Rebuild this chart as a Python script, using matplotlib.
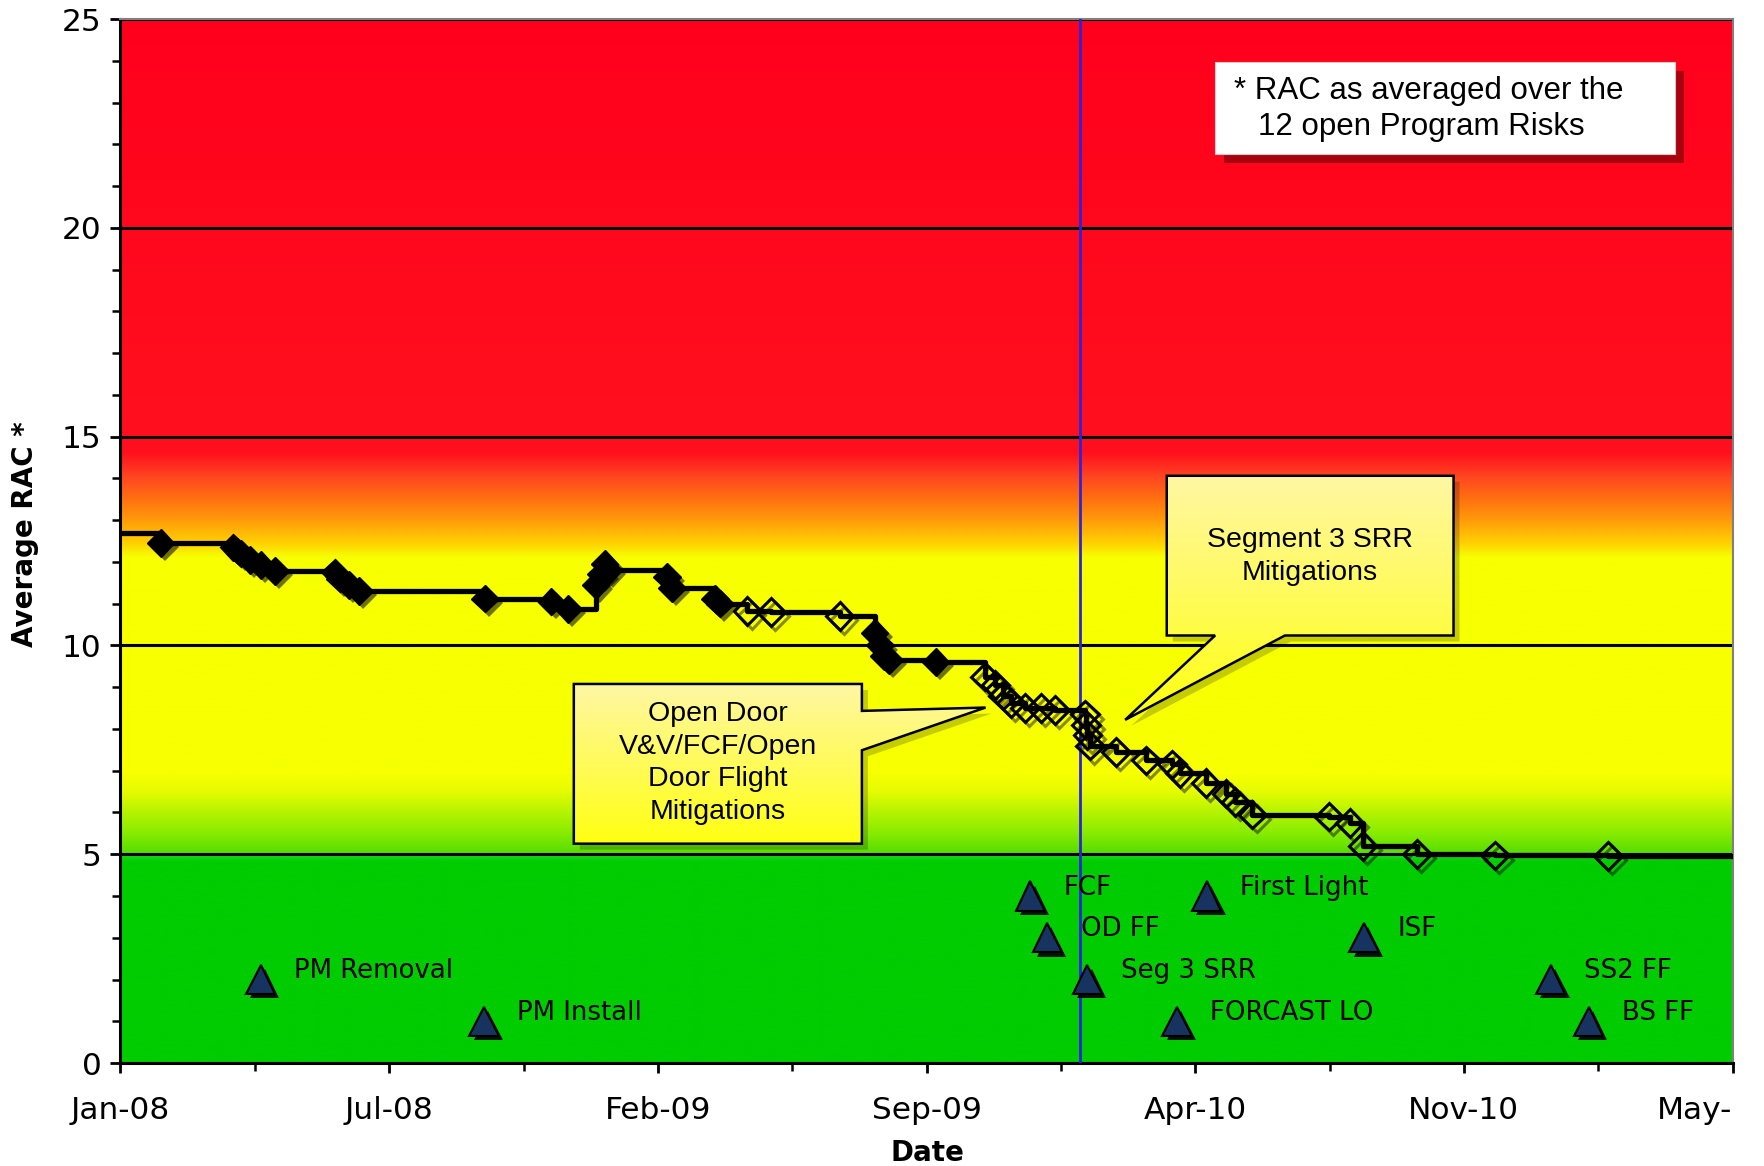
import matplotlib
matplotlib.use("Agg")
import matplotlib.pyplot as plt
import matplotlib.dates as mdates
import matplotlib.patheffects as pe
from matplotlib.colors import to_rgb
from matplotlib.patches import Polygon, Rectangle
from matplotlib.transforms import offset_copy
import numpy as np
import pandas as pd

# Average RAC history: '' = no marker, 'F' = mitigation done, 'H' = planned
rac_dates = ['2008-01-01', '2008-02-01', '2008-03-28', '2008-04-03', '2008-04-10',
             '2008-04-18', '2008-04-29', '2008-06-14', '2008-06-18', '2008-06-25',
             '2008-07-03', '2008-10-08', '2008-11-28', '2008-12-11', '2009-01-01',
             '2009-01-05', '2009-01-08', '2009-01-11', '2009-02-25', '2009-03-01',
             '2009-04-03', '2009-04-07', '2009-04-28', '2009-05-16', '2009-07-08',
             '2009-08-04', '2009-08-08', '2009-08-11', '2009-08-15', '2009-09-20',
             '2009-10-28', '2009-11-05', '2009-11-11', '2009-11-17', '2009-11-28',
             '2009-12-10', '2009-12-21', '2010-01-13', '2010-01-14', '2010-01-15',
             '2010-01-17', '2010-02-06', '2010-03-01', '2010-03-21', '2010-03-27',
             '2010-04-16', '2010-05-02', '2010-05-09', '2010-05-22', '2010-07-20',
             '2010-08-05', '2010-08-15', '2010-09-26', '2010-11-25', '2011-02-20',
             '2011-05-27']
rac_values = [12.70, 12.45, 12.35, 12.20, 12.05,
              11.92, 11.78, 11.75, 11.60, 11.45,
              11.30, 11.12, 11.05, 10.87, 11.45,
              11.70, 11.95, 11.80, 11.65, 11.38,
              11.12, 11.00, 10.82, 10.80, 10.70,
              10.30, 10.00, 9.75, 9.65, 9.60,
              9.25, 9.05, 8.80, 8.62, 8.50,
              8.50, 8.45, 8.35, 8.10, 7.85,
              7.60, 7.45, 7.25, 7.15, 6.95,
              6.70, 6.45, 6.25, 5.95, 5.90,
              5.75, 5.20, 5.00, 4.97, 4.96,
              4.96]
rac_status = ['', 'F', 'F', 'F', 'F',
              'F', 'F', 'F', 'F', 'F',
              'F', 'F', 'F', 'F', 'F',
              'F', 'F', 'F', 'F', 'F',
              'F', 'F', 'H', 'H', 'H',
              'F', 'F', 'F', 'F', 'F',
              'H', 'H', 'H', 'H', 'H',
              'H', 'H', 'H', 'H', 'H',
              'H', 'H', 'H', 'H', 'H',
              'H', 'H', 'H', 'H', 'H',
              'H', 'H', 'H', 'H', 'H',
              '']

# program milestones
ms_names = ['PM Removal', 'PM Install', 'FCF', 'OD FF', 'Seg 3 SRR',
            'FORCAST LO', 'First Light', 'ISF', 'SS2 FF', 'BS FF']
ms_dates = ['2008-04-18', '2008-10-07', '2009-12-02', '2009-12-15', '2010-01-15',
            '2010-03-25', '2010-04-17', '2010-08-16', '2011-01-07', '2011-02-05']
ms_levels = [2, 1, 4, 3, 2, 1, 4, 3, 2, 1]

status_date = '2010-01-09'

axis_start = '2008-01-01'
tick_step_days = 207
tick_labels = ['Jan-08', 'Jul-08', 'Feb-09', 'Sep-09', 'Apr-10', 'Nov-10', 'May-']

# background colour ramp (RAC value -> colour)
zone_levels = [0, 4.80, 4.99, 5.01, 5.5, 6.0, 6.5, 6.9, 12.1, 12.45, 13.0, 13.5, 14.0, 14.6, 25]
zone_colors = ['#00CC00', '#00CC00', '#20DA20', '#55DD00', '#88EC00', '#B5F400', '#E6FC00',
               '#F7FF00', '#F7FF00', '#FFD000', '#FF9A0A', '#FF7010', '#FF4820', '#FF101E', '#FF001C']

dates = pd.to_datetime(rac_dates)
x0 = pd.Timestamp(axis_start)
ticks = [x0 + pd.Timedelta(days=tick_step_days * k) for k in range(len(tick_labels))]
minor_ticks = [x0 + pd.Timedelta(days=tick_step_days * k + tick_step_days / 2) for k in range(len(tick_labels) - 1)]
x1 = ticks[-1]

fig = plt.figure(figsize=(17.64, 11.66), dpi=100)
ax = fig.add_axes([0.0683, 0.0883, 0.9139, 0.8954])

# gradient background
yy = np.linspace(0, 25, 1200)
rgb = np.array([to_rgb(c) for c in zone_colors])
grad = np.stack([np.interp(yy, zone_levels, rgb[:, k]) for k in range(3)], axis=-1)[:, None, :]
ax.imshow(grad, extent=[mdates.date2num(x0), mdates.date2num(x1), 0, 25], origin='lower',
          aspect='auto', interpolation='bilinear', zorder=0)

ax.axvline(pd.Timestamp(status_date), color='#2B22DD', lw=2, zorder=3)

# step line
ax.plot(dates, rac_values, drawstyle='steps-post', color='k', lw=3.8, zorder=3)

done = [i for i, s in enumerate(rac_status) if s == 'F']
plan = [i for i, s in enumerate(rac_status) if s == 'H']
ax.plot(dates[done], [rac_values[i] for i in done], ls='none', marker='D', ms=14,
        mfc='k', mec='k', zorder=4,
        path_effects=[pe.SimplePatchShadow(offset=(3, -3), shadow_rgbFace='k', alpha=0.55), pe.Normal()])
ax.plot(dates[plan], [rac_values[i] for i in plan], ls='none', marker='D', ms=14,
        mfc='none', mec='k', mew=2.2, zorder=4,
        path_effects=[pe.SimpleLineShadow(offset=(3, -3), shadow_color='k', alpha=0.45), pe.Normal()])

# milestones
md = pd.to_datetime(ms_dates)
ax.plot(md, ms_levels, ls='none', marker='^', ms=21, mfc='#17335F', mec='k', mew=1.5, zorder=4,
        path_effects=[pe.SimplePatchShadow(offset=(3, -3), shadow_rgbFace='k', alpha=0.9), pe.Normal()])
for name, d, lv in zip(ms_names, md, ms_levels):
    ax.annotate(name, (d, lv), xytext=(24, 6), textcoords='offset points', ha='left', va='center',
                fontsize=18.7, color='k', zorder=5)


def callout(verts, text, xy):
    shadow = Polygon(verts, closed=True, transform=offset_copy(ax.transAxes, fig=fig, x=6, y=-6, units='dots'),
                     facecolor='k', edgecolor='none', alpha=0.2, zorder=5)
    ax.add_patch(shadow)
    poly = Polygon(verts, closed=True, transform=ax.transAxes, facecolor='none', edgecolor='k', lw=1.8, zorder=6)
    ax.add_patch(poly)
    v = np.array(verts)
    g = np.linspace(0, 1, 200)
    top, bot = np.array(to_rgb('#FFF7A4')), np.array(to_rgb('#FFFF10'))
    cg = (bot[None, :] * (1 - g[:, None]) + top[None, :] * g[:, None])[:, None, :]
    im = ax.imshow(cg, origin='lower', aspect='auto', interpolation='bilinear', zorder=5.5,
                   extent=[v[:, 0].min(), v[:, 0].max(), v[:, 1].min(), v[:, 1].max()],
                   transform=ax.transAxes)
    im.set_clip_path(poly)
    ax.text(xy[0], xy[1], text, transform=ax.transAxes, ha='center', va='center', multialignment='center',
            fontsize=20.5, family='Liberation Sans', linespacing=1.33, zorder=7)


callout([(0.2812, 0.3631), (0.4599, 0.3631), (0.4599, 0.3373), (0.5366, 0.3405),
         (0.4599, 0.2996), (0.4599, 0.2101), (0.2812, 0.2101)],
        'Open Door\nV&V/FCF/Open\nDoor Flight\nMitigations', (0.3706, 0.2872))
callout([(0.6490, 0.5625), (0.8269, 0.5625), (0.8269, 0.4095), (0.7223, 0.4095),
         (0.6232, 0.3287), (0.6790, 0.4095), (0.6490, 0.4095)],
        'Segment 3 SRR\nMitigations', (0.7376, 0.4849))

# note box
ax.add_patch(Rectangle((0.679, 0.8707), 0.2854, 0.0884, transform=offset_copy(ax.transAxes, fig=fig, x=9, y=-9, units='dots'),
                       facecolor='#400000', edgecolor='none', alpha=0.45, zorder=5))
ax.add_patch(Rectangle((0.679, 0.8707), 0.2854, 0.0884, transform=ax.transAxes,
                       facecolor='white', edgecolor='#CCCCCC', lw=0.8, zorder=6))
ax.text(0.6909, 0.931, '* RAC as averaged over the', transform=ax.transAxes, ha='left', va='center',
        fontsize=22.5, family='Liberation Sans', zorder=7)
ax.text(0.7055, 0.8966, '12 open Program Risks', transform=ax.transAxes, ha='left', va='center',
        fontsize=22.5, family='Liberation Sans', zorder=7)

# axes styling
ax.set_xlim(x0, x1)
ax.set_ylim(0, 25)
ax.set_yticks(range(0, 26, 5))
ax.set_yticks(range(0, 26), minor=True)
ax.set_xticks(ticks)
ax.set_xticklabels(tick_labels)
ax.set_xticks(minor_ticks, minor=True)
ax.grid(axis='y', which='major', color='k', lw=2.2)
ax.tick_params(axis='both', which='major', direction='out', length=7.5, width=2, labelsize=22.5, colors='k')
ax.tick_params(axis='both', which='minor', direction='out', length=5.5, width=1.8)
ax.tick_params(axis='x', pad=16)
ax.tick_params(axis='y', pad=6)
# last label is truncated in the original and sits left of its tick
ax.get_xticklabels()[-1].set_horizontalalignment('right')
for s in ['left', 'bottom']:
    ax.spines[s].set_color('k')
    ax.spines[s].set_linewidth(2.2)
for s in ['top', 'right']:
    ax.spines[s].set_color('#808080')
    ax.spines[s].set_linewidth(1.5)

fig.text(0.0142, 0.542, 'Average RAC *', rotation=90, ha='center', va='center', fontsize=20, fontweight='bold')
fig.text(0.5255, 0.011, 'Date', ha='center', va='center', fontsize=20, fontweight='bold')

fig.savefig('out.png', dpi=100)
